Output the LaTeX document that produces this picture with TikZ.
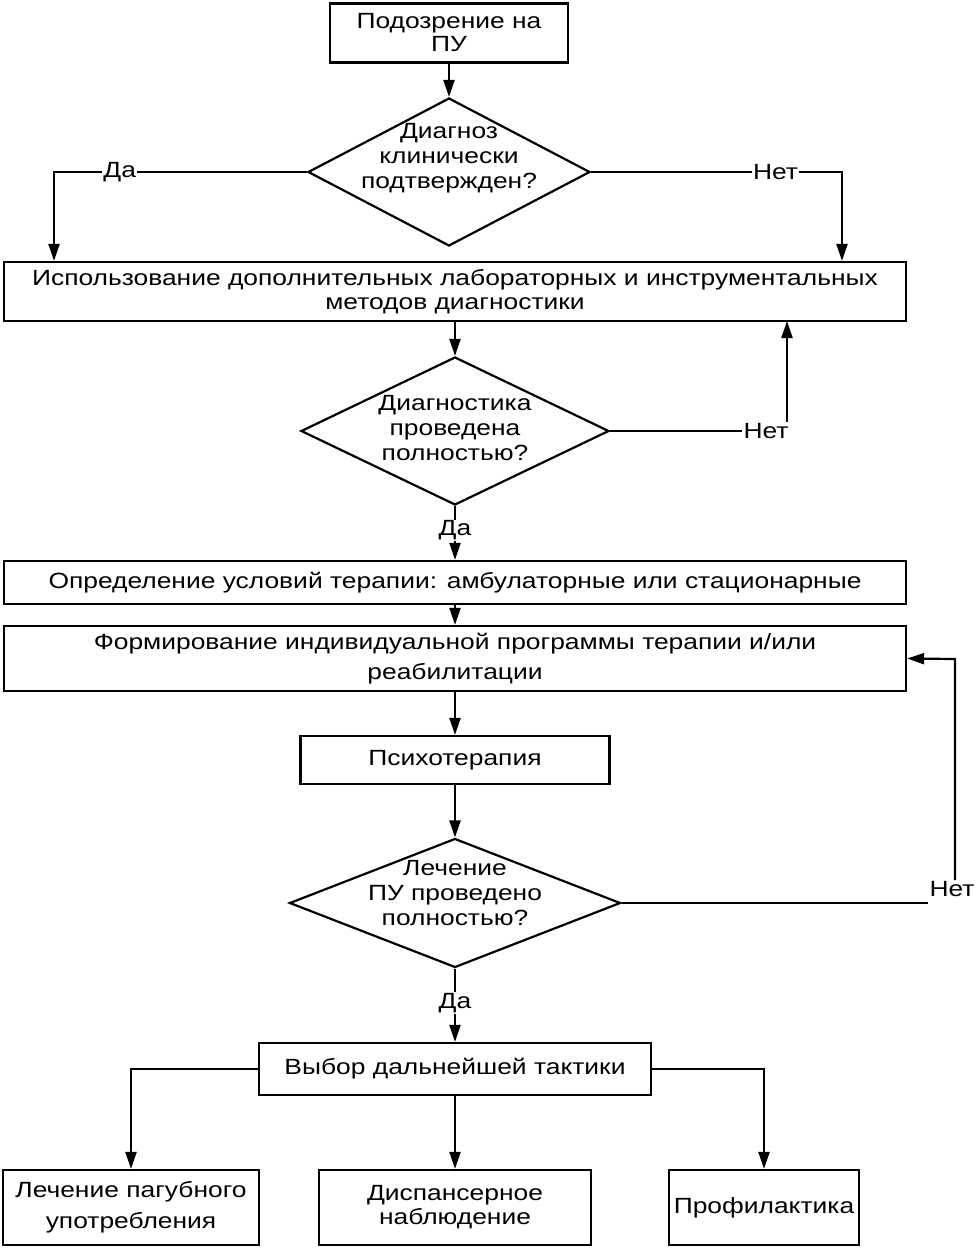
\documentclass[tikz,border=0pt]{standalone}
\usepackage{fontspec}
\setmainfont{Liberation Sans}[FakeStretch=1.2]
\usetikzlibrary{arrows.meta,shapes.geometric}
\begin{document}
\begin{tikzpicture}[x=1pt,y=-1pt,
  every node/.style={font=\fontsize{22}{25}\selectfont},
  box/.style={draw, line width=2.2pt, inner sep=0pt, align=center},
  dia/.style={draw, diamond, line width=2.2pt, inner sep=0pt},
  txt/.style={align=center, inner sep=0pt},
  lbl/.style={fill=white, inner sep=1pt},
  arr/.style={line width=2.2pt, -{Triangle[length=17pt,width=11pt]}},
  ln/.style={line width=2.2pt}]
\useasboundingbox (0,0) rectangle (976,1250);
% boxes
\node[box, minimum width=238, minimum height=59, font=\fontsize{22}{23}\selectfont] (b1) at (449,33) {Подозрение на\\ПУ};
\node[dia, minimum width=282, minimum height=148] (d1) at (449,172) {};
\node[txt] (t1) at (449,158) {Диагноз\\клинически\\подтвержден?};
\node[box, minimum width=902, minimum height=59, font=\fontsize{22}{24}\selectfont] (b2) at (455,291.5) {Использование дополнительных лабораторных и инструментальных\\методов диагностики};
\node[dia, minimum width=308, minimum height=148] (d2) at (455,431) {};
\node[txt] (t2) at (455,428) {Диагностика\\проведена\\полностью?};
\node[box, minimum width=902, minimum height=43] (b3) at (455,582.5) {Определение условий терапии: амбулаторные или стационарные};
\node[box, minimum width=902, minimum height=65, font=\fontsize{22}{30}\selectfont] (b4) at (455,658.5) {Формирование индивидуальной программы терапии и/или\\реабилитации};
\node[box, minimum width=309, minimum height=48] (b5) at (455,760) {Психотерапия};
\node[dia, minimum width=331, minimum height=129] (d3) at (455,903) {};
\node[txt] (t3) at (455,893) {Лечение\\ПУ проведено\\полностью?};
\node[box, minimum width=392, minimum height=52] (b6) at (455,1069) {Выбор дальнейшей тактики};
\node[box, minimum width=256, minimum height=75, font=\fontsize{22}{31}\selectfont] (b7) at (131,1207.5) {Лечение пагубного\\употребления};
\node[box, minimum width=272, minimum height=75, font=\fontsize{22}{24}\selectfont] (b8) at (455,1207.5) {Диспансерное\\наблюдение};
\node[box, minimum width=190, minimum height=75] (b9) at (764,1207.5) {Профилактика};
% coordinates
\coordinate (yesL) at (54,172);
\coordinate (noR) at (842,172);
\coordinate (up2) at (787,321);
\coordinate (up3) at (955,659);
\node[lbl] (n2) at (766,431) {Нет};
\node[lbl] (n3) at (952,889) {Нет};
% connectors
\draw[arr] (b1.south) -- (d1.north);
\draw[arr] (d1.west) -- node[lbl,pos=0.74]{Да} (yesL) -- (yesL |- b2.north);
\draw[arr] (d1.east) -- node[lbl,pos=0.735]{Нет} (noR) -- (noR |- b2.north);
\draw[arr] (b2.south) -- (d2.north);
\draw[ln] (d2.east) -- (n2.west);
\draw[arr] (n2.north -| up2) -- (up2);
\draw[arr] (d2.south) -- node[lbl,pos=0.45]{Да} (b3.north);
\draw[arr] (b3.south) -- (b4.north);
\draw[arr] (b4.south) -- (b5.north);
\draw[arr] (b5.south) -- (d3.north);
\draw[ln] (d3.east) -- (d3.east -| n3.west);
\draw[arr] (n3.north -| up3) -- (up3) -- (b4.east);
\draw[arr] (d3.south) -- node[lbl,pos=0.47]{Да} (b6.north);
\draw[arr] (b6.west) -| (b7.north);
\draw[arr] (b6.south) -- (b8.north);
\draw[arr] (b6.east) -| (b9.north);
\end{tikzpicture}
\end{document}
